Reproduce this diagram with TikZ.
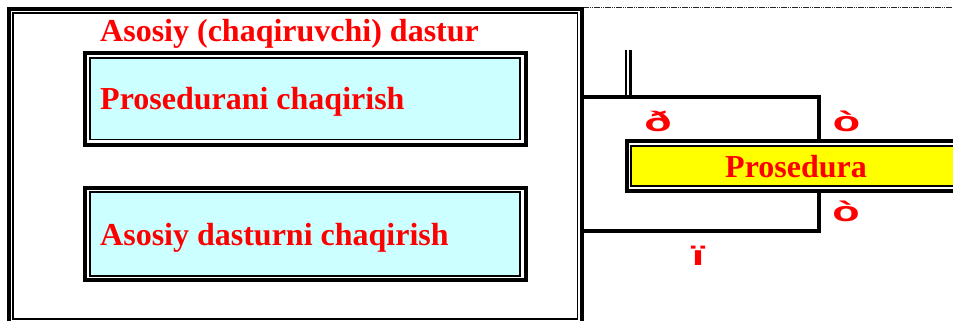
\documentclass[tikz,border=0pt]{standalone}
\usepackage{fontspec}
\usepackage{graphicx}
\setmainfont{Liberation Serif}
\newfontfamily\labfont{Liberation Sans}
\definecolor{txtred}{HTML}{FF0000}
\definecolor{boxcyan}{HTML}{CCFFFF}
\definecolor{boxyellow}{HTML}{FFFF00}
\tikzset{
  thickln/.style={line width=4pt},
  thinln/.style={line width=1.8pt},
  maintext/.style={anchor=base west, inner sep=0pt, text=txtred, font=\fontsize{32}{34}\selectfont\bfseries},
  symlabel/.style={anchor=base, inner sep=0pt, text=txtred, font=\fontsize{28}{30}\selectfont\labfont\bfseries},
}
\newcommand{\wideglyph}[1]{\scalebox{1.6}[1]{#1}}
\begin{document}
\begin{tikzpicture}[x=1pt,y=-1pt]
\useasboundingbox (0,0) rectangle (953,321);
\clip (0,0) rectangle (953,321);
% top dotted rule
\coordinate (dotA) at (583,7.3);
\coordinate (dotB) at (953,7.3);
\draw[line width=1.1pt, black!85, dash pattern=on 1.5pt off 0.7pt] (dotA) -- (dotB);
% main program frame
\draw[thickln] (9.3,9.3) rectangle (582,335);
\draw[thinln] (12.9,12.9) rectangle (577.4,319);
\node[maintext] (title) at (100,41.7) {Asosiy (chaqiruvchi) dastur};
% box 1
\draw[thickln] (85,53) rectangle (525.5,144.5);
\draw[thinln, fill=boxcyan] (89.7,57.7) rectangle (519.7,139.5);
\node[maintext] (call1) at (100,110) {Prosedurani chaqirish};
% box 2
\draw[thickln] (85,187.5) rectangle (525.5,280);
\draw[thinln, fill=boxcyan] (89.7,192.2) rectangle (519.7,275.8);
\node[maintext] (call2) at (100,245) {Asosiy dasturni chaqirish};
% procedure box
\draw[thickln] (627,141.3) rectangle (975,190.7);
\draw[thinln, fill=boxyellow] (631.3,145.8) rectangle (970,185.9);
\node[maintext] (proc) at (725,177) {Prosedura};
% connectors
\coordinate (frTop) at (582,97);
\coordinate (cTop) at (818.7,97);
\coordinate (pTop) at (818.7,141.3);
\coordinate (pBot) at (818.7,190.7);
\coordinate (cBot) at (818.7,231.3);
\coordinate (frBot) at (582,231.3);
\draw[thickln] (frTop) -- (cTop) -- (pTop);
\draw[thickln] (pBot) -- (cBot) -- (frBot);
\coordinate (dvA1) at (626.2,50);
\coordinate (dvB1) at (626.2,97);
\coordinate (dvA2) at (630.4,50);
\coordinate (dvB2) at (630.4,97);
\draw[line width=2.3pt] (dvA1) -- (dvB1);
\draw[line width=2.3pt] (dvA2) -- (dvB2);
% labels
\node[symlabel] (l1) at (658,131) {\wideglyph{ð}};
\node[symlabel] (l2) at (846.5,131) {\wideglyph{ò}};
\node[symlabel] (l3) at (846,221) {\wideglyph{ò}};
\node[symlabel] (l4) at (698,265) {\wideglyph{ï}};
\end{tikzpicture}
\end{document}
